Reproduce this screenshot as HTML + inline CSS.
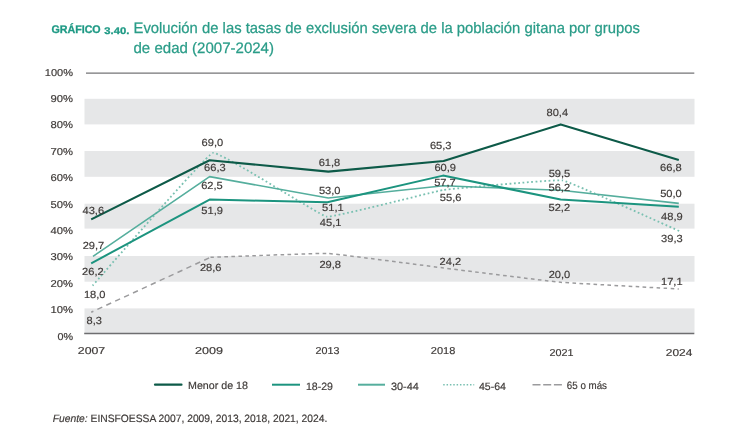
<!DOCTYPE html>
<html><head><meta charset="utf-8"><title>Gráfico 3.40</title>
<style>
html,body{margin:0;padding:0;background:#fff;}
body{width:750px;height:439px;overflow:hidden;position:relative;font-family:"Liberation Sans",sans-serif;}
svg{position:absolute;left:0;top:0;display:block;filter:blur(0.45px);}
text{font-family:"Liberation Sans",sans-serif;text-rendering:geometricPrecision;}
.t{stroke:#3e3a38;stroke-width:0.18px;}
</style></head><body>
<svg width="750" height="439" viewBox="0 0 750 439">
<rect x="84.5" y="98.8" width="610.0" height="25.6" fill="#e6e7e8"/>
<rect x="84.5" y="151.0" width="610.0" height="25.8" fill="#e6e7e8"/>
<rect x="84.5" y="203.7" width="610.0" height="24.9" fill="#e6e7e8"/>
<rect x="84.5" y="256.0" width="610.0" height="25.7" fill="#e6e7e8"/>
<rect x="84.5" y="308.4" width="610.0" height="25.1" fill="#e6e7e8"/>
<line x1="86" y1="73.1" x2="694.3" y2="73.1" stroke="#757577" stroke-width="1.3"/>
<line x1="84.2" y1="333.6" x2="694.3" y2="333.6" stroke="#6e6e70" stroke-width="1.5"/>
<text x="51.4" y="32.7" font-size="11" font-weight="bold" fill="#1f9a85" stroke="#1f9a85" stroke-width="0.3" textLength="49.3" lengthAdjust="spacingAndGlyphs">GRÁFICO</text>
<text x="104.3" y="33.6" font-size="9.6" font-weight="bold" fill="#1f9a85" stroke="#1f9a85" stroke-width="0.3" textLength="25" lengthAdjust="spacingAndGlyphs">3.40.</text>
<text x="133.5" y="32.7" font-size="15.2" fill="#2a9c88" stroke="#2a9c88" stroke-width="0.25" textLength="506.5" lengthAdjust="spacingAndGlyphs">Evolución de las tasas de exclusión severa de la población gitana por grupos</text>
<text x="133.5" y="52.5" font-size="15.2" fill="#2a9c88" stroke="#2a9c88" stroke-width="0.25" textLength="140.5" lengthAdjust="spacingAndGlyphs">de edad (2007-2024)</text>
<text class="t" x="73" y="75.9" font-size="10" fill="#3e3a38" text-anchor="end" textLength="28.2" lengthAdjust="spacingAndGlyphs">100%</text>
<text class="t" x="73" y="102.0" font-size="10" fill="#3e3a38" text-anchor="end" textLength="22.5" lengthAdjust="spacingAndGlyphs">90%</text>
<text class="t" x="73" y="127.5" font-size="10" fill="#3e3a38" text-anchor="end" textLength="22.5" lengthAdjust="spacingAndGlyphs">80%</text>
<text class="t" x="73" y="155.2" font-size="10" fill="#3e3a38" text-anchor="end" textLength="22.5" lengthAdjust="spacingAndGlyphs">70%</text>
<text class="t" x="73" y="180.6" font-size="10" fill="#3e3a38" text-anchor="end" textLength="22.5" lengthAdjust="spacingAndGlyphs">60%</text>
<text class="t" x="73" y="208.2" font-size="10" fill="#3e3a38" text-anchor="end" textLength="22.5" lengthAdjust="spacingAndGlyphs">50%</text>
<text class="t" x="73" y="234.3" font-size="10" fill="#3e3a38" text-anchor="end" textLength="22.5" lengthAdjust="spacingAndGlyphs">40%</text>
<text class="t" x="73" y="260.2" font-size="10" fill="#3e3a38" text-anchor="end" textLength="22.5" lengthAdjust="spacingAndGlyphs">30%</text>
<text class="t" x="73" y="287.0" font-size="10" fill="#3e3a38" text-anchor="end" textLength="22.5" lengthAdjust="spacingAndGlyphs">20%</text>
<text class="t" x="73" y="312.8" font-size="10" fill="#3e3a38" text-anchor="end" textLength="22.5" lengthAdjust="spacingAndGlyphs">10%</text>
<text class="t" x="73" y="339.8" font-size="10" fill="#3e3a38" text-anchor="end" textLength="15.6" lengthAdjust="spacingAndGlyphs">0%</text>
<text class="t" x="77.8" y="353.6" font-size="10" fill="#3e3a38" textLength="27.4" lengthAdjust="spacingAndGlyphs">2007</text>
<text class="t" x="195.0" y="353.6" font-size="10" fill="#3e3a38" textLength="28.0" lengthAdjust="spacingAndGlyphs">2009</text>
<text class="t" x="315.5" y="353.6" font-size="10" fill="#3e3a38" textLength="23.9" lengthAdjust="spacingAndGlyphs">2013</text>
<text class="t" x="430.8" y="353.6" font-size="10" fill="#3e3a38" textLength="24.5" lengthAdjust="spacingAndGlyphs">2018</text>
<text class="t" x="549.6" y="355.9" font-size="10" fill="#3e3a38" textLength="24.0" lengthAdjust="spacingAndGlyphs">2021</text>
<text class="t" x="665.8" y="355.9" font-size="10" fill="#3e3a38" textLength="26.5" lengthAdjust="spacingAndGlyphs">2024</text>
<path d="M91.2,312.2 L210.5,257.3" fill="none" stroke="#9b9b9d" stroke-width="1.5" stroke-dasharray="5.4 4.4" stroke-dashoffset="3"/>
<path d="M210.5,257.3 C214.0,257.2 320.8,253.1 327.8,253.4 C334.8,253.7 436.6,267.1 443.6,268.0 C450.6,268.9 553.6,281.7 560.7,282.3 C567.8,282.9 675.3,288.8 678.8,289.0" fill="none" stroke="#9b9b9d" stroke-width="1.5" stroke-dasharray="3.6 3.4"/>
<path d="M92.6,285.6 C96.2,281.6 205.8,155.1 212.8,153.0 C219.8,150.9 319.7,215.5 326.6,216.6 C333.5,217.7 435.9,191.1 443.0,190.0 C450.1,188.9 555.5,179.2 562.6,180.4 C569.7,181.6 676.9,230.0 680.4,231.5" fill="none" stroke="#79c0b1" stroke-width="1.8" stroke-dasharray="1.8 2.55"/>
<polyline points="93.0,256.4 209.6,176.6 328.3,198.0 443.6,185.8 560.7,190.3 678.8,203.4" fill="none" stroke="#55ae9d" stroke-width="1.6" stroke-linejoin="round"/>
<polyline points="91.2,263.3 209.6,199.6 327.4,202.3 443.0,175.6 560.7,199.5 678.8,206.8" fill="none" stroke="#1c947f" stroke-width="2.0" stroke-linejoin="round"/>
<polyline points="91.2,219.4 209.6,160.2 328.3,171.6 443.6,161.0 560.7,124.4 678.8,159.9" fill="none" stroke="#0d5a48" stroke-width="2.1" stroke-linejoin="round"/>
<text class="t" x="93.3" y="213.8" font-size="10.3" fill="#3e3a38" text-anchor="middle" textLength="21.6" lengthAdjust="spacingAndGlyphs">43,6</text>
<text class="t" x="93.5" y="248.7" font-size="10.3" fill="#3e3a38" text-anchor="middle" textLength="21.6" lengthAdjust="spacingAndGlyphs">29,7</text>
<text class="t" x="92.9" y="275.1" font-size="10.3" fill="#3e3a38" text-anchor="middle" textLength="21.6" lengthAdjust="spacingAndGlyphs">26,2</text>
<text class="t" x="94.7" y="298.2" font-size="10.3" fill="#3e3a38" text-anchor="middle" textLength="21.6" lengthAdjust="spacingAndGlyphs">18,0</text>
<text class="t" x="94.2" y="323.5" font-size="10.3" fill="#3e3a38" text-anchor="middle" textLength="15.3" lengthAdjust="spacingAndGlyphs">8,3</text>
<text class="t" x="212.4" y="145.8" font-size="10.3" fill="#3e3a38" text-anchor="middle" textLength="21.6" lengthAdjust="spacingAndGlyphs">69,0</text>
<text class="t" x="214.9" y="171.3" font-size="10.3" fill="#3e3a38" text-anchor="middle" textLength="21.6" lengthAdjust="spacingAndGlyphs">66,3</text>
<text class="t" x="212.0" y="189.0" font-size="10.3" fill="#3e3a38" text-anchor="middle" textLength="21.6" lengthAdjust="spacingAndGlyphs">62,5</text>
<text class="t" x="212.1" y="214.0" font-size="10.3" fill="#3e3a38" text-anchor="middle" textLength="21.6" lengthAdjust="spacingAndGlyphs">51,9</text>
<text class="t" x="210.7" y="270.8" font-size="10.3" fill="#3e3a38" text-anchor="middle" textLength="21.6" lengthAdjust="spacingAndGlyphs">28,6</text>
<text class="t" x="329.5" y="165.8" font-size="10.3" fill="#3e3a38" text-anchor="middle" textLength="21.6" lengthAdjust="spacingAndGlyphs">61,8</text>
<text class="t" x="329.7" y="194.2" font-size="10.3" fill="#3e3a38" text-anchor="middle" textLength="21.6" lengthAdjust="spacingAndGlyphs">53,0</text>
<text class="t" x="332.9" y="210.8" font-size="10.3" fill="#3e3a38" text-anchor="middle" textLength="21.6" lengthAdjust="spacingAndGlyphs">51,1</text>
<text class="t" x="330.6" y="226.1" font-size="10.3" fill="#3e3a38" text-anchor="middle" textLength="21.6" lengthAdjust="spacingAndGlyphs">45,1</text>
<text class="t" x="330.2" y="267.8" font-size="10.3" fill="#3e3a38" text-anchor="middle" textLength="21.6" lengthAdjust="spacingAndGlyphs">29,8</text>
<text class="t" x="440.7" y="148.8" font-size="10.3" fill="#3e3a38" text-anchor="middle" textLength="21.6" lengthAdjust="spacingAndGlyphs">65,3</text>
<text class="t" x="445.2" y="171.2" font-size="10.3" fill="#3e3a38" text-anchor="middle" textLength="21.6" lengthAdjust="spacingAndGlyphs">60,9</text>
<text class="t" x="445.0" y="185.6" font-size="10.3" fill="#3e3a38" text-anchor="middle" textLength="21.6" lengthAdjust="spacingAndGlyphs">57,7</text>
<text class="t" x="450.6" y="201.2" font-size="10.3" fill="#3e3a38" text-anchor="middle" textLength="21.6" lengthAdjust="spacingAndGlyphs">55,6</text>
<text class="t" x="450.4" y="265.0" font-size="10.3" fill="#3e3a38" text-anchor="middle" textLength="21.6" lengthAdjust="spacingAndGlyphs">24,2</text>
<text class="t" x="557.3" y="115.8" font-size="10.3" fill="#3e3a38" text-anchor="middle" textLength="21.6" lengthAdjust="spacingAndGlyphs">80,4</text>
<text class="t" x="559.5" y="176.7" font-size="10.3" fill="#3e3a38" text-anchor="middle" textLength="21.6" lengthAdjust="spacingAndGlyphs">59,5</text>
<text class="t" x="559.3" y="191.0" font-size="10.3" fill="#3e3a38" text-anchor="middle" textLength="21.6" lengthAdjust="spacingAndGlyphs">56,2</text>
<text class="t" x="559.3" y="210.6" font-size="10.3" fill="#3e3a38" text-anchor="middle" textLength="21.6" lengthAdjust="spacingAndGlyphs">52,2</text>
<text class="t" x="559.5" y="277.8" font-size="10.3" fill="#3e3a38" text-anchor="middle" textLength="21.6" lengthAdjust="spacingAndGlyphs">20,0</text>
<text class="t" x="670.9" y="170.8" font-size="10.3" fill="#3e3a38" text-anchor="middle" textLength="21.6" lengthAdjust="spacingAndGlyphs">66,8</text>
<text class="t" x="671.0" y="196.5" font-size="10.3" fill="#3e3a38" text-anchor="middle" textLength="21.6" lengthAdjust="spacingAndGlyphs">50,0</text>
<text class="t" x="671.9" y="219.6" font-size="10.3" fill="#3e3a38" text-anchor="middle" textLength="21.6" lengthAdjust="spacingAndGlyphs">48,9</text>
<text class="t" x="671.9" y="242.0" font-size="10.3" fill="#3e3a38" text-anchor="middle" textLength="21.6" lengthAdjust="spacingAndGlyphs">39,3</text>
<text class="t" x="671.8" y="285.0" font-size="10.3" fill="#3e3a38" text-anchor="middle" textLength="21.6" lengthAdjust="spacingAndGlyphs">17,1</text>
<line x1="155" y1="384.7" x2="181.5" y2="384.7" stroke="#0d5a48" stroke-width="2.2" stroke-linecap="round"/>
<line x1="272" y1="384.7" x2="300" y2="384.7" stroke="#1c947f" stroke-width="2"/>
<line x1="358" y1="384.7" x2="385" y2="384.7" stroke="#55ae9d" stroke-width="2"/>
<line x1="443.2" y1="384.7" x2="474.2" y2="384.7" stroke="#79c0b1" stroke-width="1.5" stroke-dasharray="1.5 1.85"/>
<line x1="532.5" y1="384.7" x2="561.9" y2="384.7" stroke="#9b9b9d" stroke-width="1.4" stroke-dasharray="8 2.7"/>
<text class="t" x="188.0" y="388.7" font-size="10.6" fill="#3e3a38" textLength="60.0" lengthAdjust="spacingAndGlyphs">Menor de 18</text>
<text class="t" x="306.0" y="389.5" font-size="10.6" fill="#3e3a38" textLength="27.0" lengthAdjust="spacingAndGlyphs">18-29</text>
<text class="t" x="391.0" y="389.5" font-size="10.6" fill="#3e3a38" textLength="27.8" lengthAdjust="spacingAndGlyphs">30-44</text>
<text class="t" x="479.0" y="389.5" font-size="10.6" fill="#3e3a38" textLength="27.0" lengthAdjust="spacingAndGlyphs">45-64</text>
<text class="t" x="566.8" y="389.0" font-size="10.6" fill="#3e3a38" textLength="40.2" lengthAdjust="spacingAndGlyphs">65 o más</text>
<text class="t" x="52.8" y="421.8" font-size="10.6" fill="#3e3a38" textLength="274.5" lengthAdjust="spacingAndGlyphs"><tspan font-style="italic">Fuente:</tspan> EINSFOESSA 2007, 2009, 2013, 2018, 2021, 2024.</text>
</svg></body></html>
